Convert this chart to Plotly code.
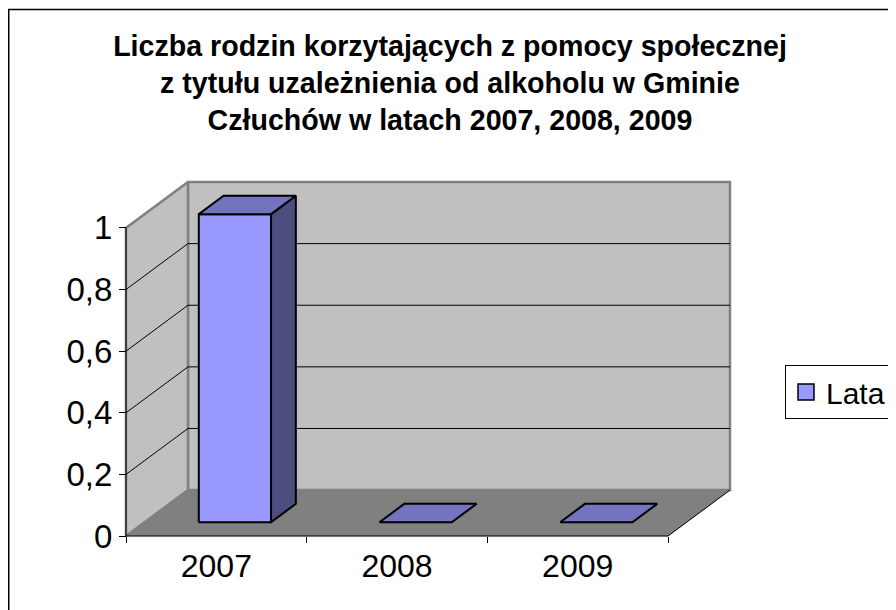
import plotly.graph_objects as go

# ---- data ----
categories = ["2007", "2008", "2009"]
values = [1, 0, 0]
series_name = "Lata"
title_lines = [
    "Liczba rodzin korzytających z pomocy społecznej",
    "z tytułu uzależnienia od alkoholu w Gminie",
    "Człuchów w latach 2007, 2008, 2009",
]
y_ticks = [0, 0.2, 0.4, 0.6, 0.8, 1]
y_max = 1

# ---- style / 3D projection constants ----
DX = 0.343   # depth offset in category units
DY = 0.149   # depth offset in value units
BAR_W = 0.4
F1, F2 = 0.30, 0.70   # bar depth front/back fraction
W, H = 896, 610
OFF = 8  # page body margin
PX_L, PX_R, PY_B, PY_T = 126 - OFF, 730 - OFF, 536 - OFF, 182 - OFF
PAD = 6
FONT = "Liberation Sans, Arial, sans-serif"

n = len(categories)
ux = (PX_R - PX_L) / (n + DX)
uy = (PY_B - PY_T) / (y_max + DY)
xr = [-0.5 - PAD / ux, n - 0.5 + DX + PAD / ux]
yr = [-PAD / uy, y_max + DY + PAD / uy]

C_WALL = "#C0C0C0"
C_FLOOR = "#808080"
C_EDGE = "#808080"
C_FRONT = "#9999FF"
C_TOP = "rgb(115,115,191)"
C_SIDE = "rgb(77,77,128)"


def P(x, v, d):
    return x + d * DX, v + d * DY


def poly(pts, fill, lc, lw):
    xs = [p[0] for p in pts] + [pts[0][0]]
    ys = [p[1] for p in pts] + [pts[0][1]]
    return go.Scatter(x=xs, y=ys, mode="lines", fill="toself", fillcolor=fill,
                      line=dict(color=lc, width=lw), hoverinfo="skip", showlegend=False)


def line(pts, color, width):
    return go.Scatter(x=[p[0] for p in pts], y=[p[1] for p in pts], mode="lines",
                      line=dict(color=color, width=width), hoverinfo="skip", showlegend=False)


x0, x1 = -0.5, n - 0.5
traces = []
# back wall
traces.append(poly([P(x0, 0, 1), P(x1, 0, 1), P(x1, y_max, 1), P(x0, y_max, 1)], C_WALL, C_EDGE, 2.5))
# left wall
traces.append(poly([P(x0, 0, 0), P(x0, 0, 1), P(x0, y_max, 1), P(x0, y_max, 0)], C_WALL, C_EDGE, 2.5))
# gridlines
for v in y_ticks[1:-1]:
    traces.append(line([P(x0, v, 0), P(x0, v, 1), P(x1, v, 1)], "black", 1))
# floor
traces.append(poly([P(x0, 0, 0), P(x1, 0, 0), P(x1, 0, 1), P(x0, 0, 1)], C_FLOOR, C_FLOOR, 0.5))
traces.append(line([P(x1, 0, 0), P(x1, 0, 1)], "black", 1))
# axis lines
traces.append(line([P(x0, 0, 0), P(x1, 0, 0)], "black", 1))
traces.append(line([P(x0, 0, 0), P(x0, y_max, 0)], "black", 1))

# bars
for i, v in enumerate(values):
    l, r = i - BAR_W / 2, i + BAR_W / 2
    if v > 0:
        traces.append(poly([P(l, 0, F1), P(r, 0, F1), P(r, v, F1), P(l, v, F1)], C_FRONT, "black", 2))
        traces.append(poly([P(r, 0, F1), P(r, 0, F2), P(r, v, F2), P(r, v, F1)], C_SIDE, "black", 2))
    traces.append(poly([P(l, v, F1), P(r, v, F1), P(r, v, F2), P(l, v, F2)], C_TOP, "black", 2))

# legend entry
traces.append(go.Scatter(x=[None], y=[None], mode="markers", name=series_name,
                         marker=dict(symbol="square", size=16, color=C_FRONT,
                                     line=dict(color="black", width=1.5)),
                         showlegend=True))

fig = go.Figure(traces)

plot_w = W - (PX_L - PAD) - (W - PX_R - PAD)
plot_h = (PY_B + PAD) - (PY_T - PAD)

fig.update_layout(
    width=W, height=H,
    margin=dict(l=PX_L - PAD, r=W - PX_R - PAD, t=PY_T - PAD, b=H - PY_B - PAD, autoexpand=False),
    paper_bgcolor="white", plot_bgcolor="white",
    font=dict(family=FONT, color="black"),
    separators=", ",
    title=dict(text="<br>".join(title_lines), x=(450 - OFF) / W, xref="container", xanchor="center",
               y=1 - 48 / H, yref="container", yanchor="top",
               font=dict(family=FONT, size=28.6, color="black", weight="bold")),
    xaxis=dict(range=xr, showgrid=False, zeroline=False, showline=False,
               tickmode="array", tickvals=list(range(n)), ticktext=categories, ticks="",
               tickfont=dict(family=FONT, size=32, color="black"), ticklabelstandoff=8,
               minor=dict(ticks="outside", tickmode="array", tickvals=[k - 0.5 for k in range(n + 1)],
                          ticklen=6, tickwidth=1, tickcolor="black"),
               anchor="free", position=PAD / plot_h, fixedrange=True),
    yaxis=dict(range=yr, showgrid=False, zeroline=False, showline=False,
               tickmode="array", tickvals=y_ticks,
               ticktext=[str(t).replace(".", ",") for t in y_ticks],
               ticks="outside", ticklen=7, tickwidth=1, tickcolor="black",
               tickfont=dict(family=FONT, size=33, color="black"),
               anchor="free", position=PAD / plot_w, fixedrange=True),
    legend=dict(x=(785 - OFF) / W, xref="container", xanchor="left",
                y=1 - (365 - OFF) / H, yref="container", yanchor="top",
                bordercolor="black", borderwidth=1, bgcolor="white",
                font=dict(family=FONT, size=30, color="black")),
    shapes=[dict(type="rect", xref="paper", yref="paper",
                 x0=(0.75 - (PX_L - PAD)) / plot_w, x1=2,
                 y0=-1, y1=((H - 1.5) - (H - PY_B - PAD)) / plot_h,
                 line=dict(color="black", width=1.5), fillcolor="rgba(0,0,0,0)", layer="below")],
)

fig.write_html("out.html")
